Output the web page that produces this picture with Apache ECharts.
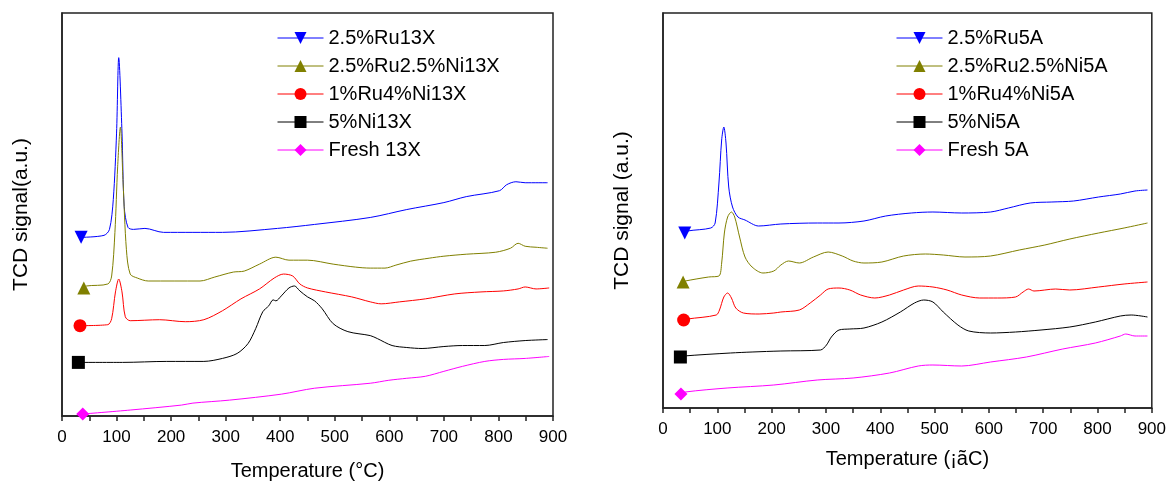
<!DOCTYPE html>
<html>
<head>
<meta charset="utf-8">
<script src="https://cdn.jsdelivr.net/npm/echarts@6/dist/echarts.min.js"></script>
<style>
  html, body { margin: 0; padding: 0; background: #fff; }
  #tpr { width: 1169px; height: 486px; }
</style>
</head>
<body>
<div id="tpr"></div>
<script>
// ---------------- data : [temperature °C, TCD signal (a.u.)] ----------------
// left panel, 13X supports
const ru13X = [[35,180],[77,182],[87,188],[94,218],[100,285],[104,361],[110,285],[114,211],[121,190],[131,188],[152,189],[186,185],[294,185],[395,189],[463,193],[565,200],[632,208],[700,215],[741,221],[802,227],[815,233],[832,236],[849,235],[890,235]];
const ruNi13X = [[40,129],[45,131],[84,133],[91,141],[97,185],[102,251],[107,291],[112,235],[118,168],[125,143],[138,139],[158,136],[253,136],[280,140],[314,145],[334,146],[362,153],[392,160],[416,157],[450,157],[497,153],[538,150],[565,149],[592,149],[612,152],[639,156],[673,159],[700,161],[741,163],[795,165],[822,169],[836,174],[849,171],[869,170],[890,169]];
const ru1Ni4_13X = [[33,91],[84,92],[91,98],[98,125],[104,138],[110,125],[116,100],[125,96],[179,97],[226,95],[260,97],[294,106],[328,118],[362,128],[389,139],[406,143],[423,141],[436,133],[450,129],[483,125],[531,120],[565,115],[585,113],[619,115],[666,118],[720,123],[768,125],[809,126],[836,128],[849,130],[869,128],[893,129]];
const ni13X = [[30,54],[111,54],[192,55],[260,55],[294,58],[321,63],[341,73],[355,88],[368,105],[379,111],[387,117],[392,116],[402,121],[416,129],[426,131],[436,126],[450,120],[463,116],[477,108],[497,93],[524,85],[565,81],[578,78],[605,71],[632,69],[660,68],[700,70],[734,71],[775,71],[809,74],[849,76],[890,77]];
const fresh13X = [[38,2],[125,6],[219,11],[240,13],[307,16],[402,22],[463,28],[565,33],[599,36],[632,38],[666,40],[700,45],[734,50],[775,55],[809,57],[849,58],[893,60]];

// right panel, 5A supports
const ru5A = [[40,175],[45,177],[88,180],[96,185],[103,225],[108,268],[112,281],[116,265],[121,221],[128,201],[138,191],[151,188],[176,182],[217,184],[284,185],[324,185],[370,187],[410,192],[457,195],[497,196],[550,195],[603,196],[636,200],[676,205],[716,206],[756,207],[802,211],[842,214],[869,217],[892,218]];
const ruNi5A = [[37,126],[41,127],[84,131],[103,132],[108,145],[113,175],[119,191],[126,196],[132,191],[141,171],[151,151],[164,141],[184,135],[204,137],[217,143],[231,147],[251,145],[277,151],[304,156],[330,152],[350,147],[370,145],[403,146],[443,152],[483,154],[516,153],[556,151],[603,152],[656,158],[703,163],[749,169],[802,175],[849,180],[892,185]];
const ru1Ni4_5A = [[38,88],[45,89],[98,93],[104,98],[112,111],[119,115],[126,110],[134,100],[148,95],[177,94],[204,95],[217,96],[251,98],[271,105],[290,113],[304,119],[324,120],[344,118],[364,113],[390,110],[417,113],[443,118],[470,122],[497,121],[523,118],[550,113],[583,110],[616,110],[649,111],[663,116],[673,119],[683,117],[723,119],[749,118],[802,121],[849,124],[892,126]];
const ni5A = [[32,51],[38,52],[124,55],[164,56],[217,57],[290,58],[301,63],[310,71],[324,78],[344,79],[370,80],[403,86],[437,96],[463,105],[480,108],[497,106],[516,96],[543,83],[563,77],[603,75],[649,76],[696,78],[749,81],[796,86],[842,92],[862,93],[892,91]];
const fresh5A = [[33,14],[41,16],[118,20],[204,23],[284,28],[350,30],[417,35],[470,42],[497,43],[550,42],[603,46],[669,51],[736,59],[796,65],[842,72],[852,74],[869,72],[892,72]];

const names13X = ['2.5%Ru13X', '2.5%Ru2.5%Ni13X', '1%Ru4%Ni13X', '5%Ni13X', 'Fresh 13X'];
const names5A = ['2.5%Ru5A', '2.5%Ru2.5%Ni5A', '1%Ru4%Ni5A', '5%Ni5A', 'Fresh 5A'];
const xTicks = [0, 900, 100];

const colors = ['#0000FF', '#808000', '#FF0000', '#000000', '#FF00FF'];
const symbols = ['triangle', 'triangle', 'circle', 'rect', 'diamond'];
const rotates = [180, 0, 0, 0, 0];

const FONT = '"Liberation Sans", Arial, sans-serif';

function makeSeries(names, datas, idx) {
  return names.map(function (name, i) {
    return {
      name: name,
      type: 'line',
      xAxisIndex: idx,
      yAxisIndex: idx,
      data: datas[i],
      smooth: 0.3,
      symbol: symbols[i],
      symbolRotate: rotates[i],
      // marker only on the first point, like the origin plot
      symbolSize: function (val, p) { return p.dataIndex === 0 ? 13 : 0; },
      showSymbol: true,
      showAllSymbol: true,
      itemStyle: { color: colors[i] },
      lineStyle: { color: colors[i], width: 1 }
    };
  });
}

function xAxisOpt(idx, name, gap) {
  return {
    type: 'value',
    gridIndex: idx,
    min: xTicks[0],
    max: xTicks[1],
    interval: xTicks[2],
    name: name,
    nameLocation: 'middle',
    nameGap: gap,
    nameTextStyle: { fontSize: 20, color: '#000', fontFamily: FONT },
    axisLine: { lineStyle: { color: '#222', width: 1.5 } },
    axisTick: { inside: false, length: 5, lineStyle: { color: '#222', width: 1.5 } },
    minorTick: { show: true, splitNumber: 2, length: 5, lineStyle: { color: '#222', width: 1.5 } },
    axisLabel: { fontSize: 17, color: '#000', margin: 13, fontFamily: FONT },
    splitLine: { show: false }
  };
}

function yAxisOpt(idx, name, max) {
  return {
    type: 'value',
    gridIndex: idx,
    min: 0,
    max: max,
    name: name,
    nameLocation: 'middle',
    nameGap: 30,
    nameTextStyle: { fontSize: 21, color: '#000', fontFamily: FONT },
    axisLine: { show: true, lineStyle: { color: '#222', width: 1.5 } },
    axisTick: { show: false },
    axisLabel: { show: false },
    splitLine: { show: false }
  };
}

function legendOpt(names, left) {
  return {
    data: names,
    orient: 'vertical',
    left: left,
    top: 23,
    itemWidth: 46,
    itemHeight: 15,
    itemGap: 8,
    lineStyle: { width: 1 },
    textStyle: { fontSize: 20, color: '#000', fontFamily: FONT, lineHeight: 20 }
  };
}

let myChart = echarts.init(document.querySelector('#tpr'));
let option = {
  animation: false,
  backgroundColor: '#fff',
  grid: [
    { left: 62, top: 13, width: 491, height: 406, show: true, borderColor: '#222', borderWidth: 1.5 },
    { left: 663, top: 13, width: 490, height: 395, show: true, borderColor: '#222', borderWidth: 1.5 }
  ],
  xAxis: [
    xAxisOpt(0, 'Temperature (°C)', 45),
    xAxisOpt(1, 'Temperature (¡ãC)', 41)
  ],
  yAxis: [
    yAxisOpt(0, 'TCD signal(a.u.)', 406),
    yAxisOpt(1, 'TCD signal (a.u.)', 395)
  ],
  legend: [legendOpt(names13X, 272), legendOpt(names5A, 891)],
  series: makeSeries(names13X, [ru13X, ruNi13X, ru1Ni4_13X, ni13X, fresh13X], 0)
    .concat(makeSeries(names5A, [ru5A, ruNi5A, ru1Ni4_5A, ni5A, fresh5A], 1))
};
myChart.setOption(option);
</script>
</body>
</html>
